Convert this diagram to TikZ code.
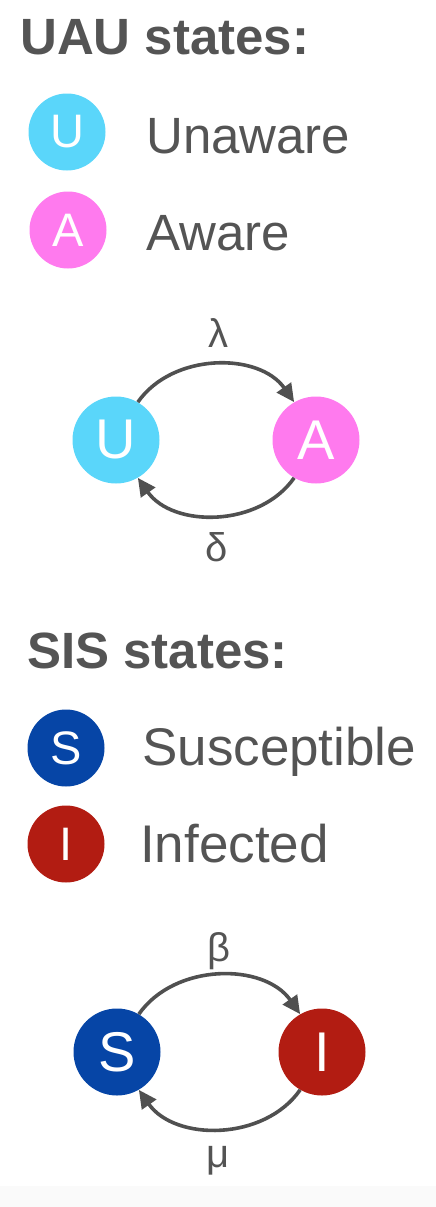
\documentclass[tikz,border=0pt]{standalone}
\usepackage{fontspec}
\setmainfont{Liberation Sans}
\usepackage{xcolor}
\usetikzlibrary{arrows.meta}
\definecolor{txtgray}{RGB}{84,84,84}
\definecolor{arcgray}{RGB}{80,80,80}
\definecolor{unaware}{RGB}{90,214,250}
\definecolor{aware}{RGB}{255,122,238}
\definecolor{suscep}{RGB}{6,69,166}
\definecolor{infect}{RGB}{178,28,18}

\begin{document}
\begin{tikzpicture}[
      x=1pt, y=1pt,
      state/.style={circle, inner sep=0pt, minimum size=87pt, text=white, font=\fontsize{56}{60}\selectfont},
      legstate/.style={circle, inner sep=0pt, minimum size=77pt, text=white, font=\fontsize{47}{50}\selectfont},
      heading/.style={anchor=base west, inner sep=0pt, text=txtgray, font=\fontsize{51}{60}\selectfont\bfseries},
      legtext/.style={anchor=base west, inner sep=0pt, text=txtgray, font=\fontsize{51}{60}\selectfont},
      rate/.style={text=txtgray, inner sep=0pt, font=\fontsize{40}{44}\selectfont},
      flow/.style={draw=arcgray, line width=3.6pt, -{Triangle[length=18pt,width=17pt]}}
    ]
    \useasboundingbox (0,0) rectangle (436,-1207);
    \fill[black!2] (0,-1186) rectangle (436,-1207);
    % UAU legend
    \node[heading] (uauhead) at (20,-55) {UAU states:};
    \node[legstate, fill=unaware] (legU) at (67,-132) {U};
    \node[legtext] (txtU) at (146,-153) {Unaware};
    \node[legstate, fill=aware] (legA) at (68,-230) {A};
    \node[legtext] (txtA) at (146,-250) {Aware};
    % UAU transitions
    \node[state, fill=unaware] (U) at (116,-440) {U};
    \node[state, fill=aware]   (A) at (316,-440) {A};
    \draw[flow] (U.60) to[out=55, in=125] (A.120);
    \draw[flow] (A.240) to[out=235, in=305] (U.300);
    \node[rate] (lambda) at (218,-333) {λ};
    \node[rate] (delta)  at (217,-547) {δ};
    % SIS legend
    \node[heading] (sishead) at (27,-668) {SIS states:};
    \node[legstate, fill=suscep] (legS) at (66,-748) {S};
    \node[legtext, font=\fontsize{53}{60}\selectfont] (txtS) at (142,-765) {Susceptible};
    \node[legstate, fill=infect] (legI) at (66,-844) {I};
    \node[legtext, font=\fontsize{53}{60}\selectfont] (txtI) at (140,-862) {Infected};
    % SIS transitions
    \node[state, fill=suscep] (S) at (117,-1052) {S};
    \node[state, fill=infect] (I) at (322,-1052) {I};
    \draw[flow] (S.60) to[out=55, in=125] (I.120);
    \draw[flow] (I.240) to[out=235, in=305] (S.300);
    \node[rate] (beta) at (219,-951) {β};
    \node[rate] (mu)   at (218,-1161) {μ};
  \end{tikzpicture}
\end{document}
